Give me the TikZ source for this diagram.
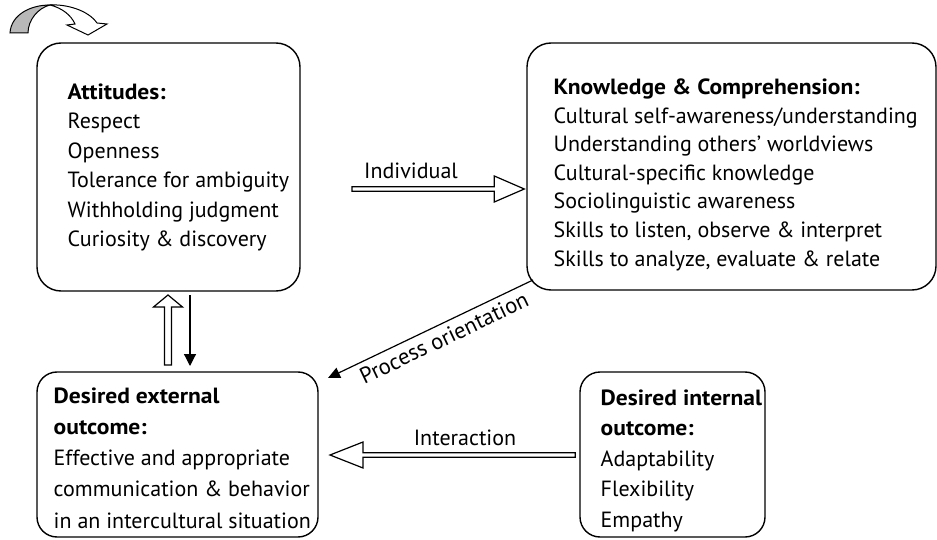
\documentclass[tikz,border=0pt]{standalone}
\usepackage{fontspec}
\setmainfont{PT Sans}[BoldFeatures={FakeStretch=1.07}]
\usetikzlibrary{calc,arrows.meta}
\begin{document}
\begin{tikzpicture}[x=1pt,y=-1pt,
  line width=1.4pt,
  box/.style={draw, rounded corners=#1, line width=1.4pt},
  txt/.style={anchor=north west, inner sep=0pt, align=left},
  lbl/.style={inner sep=0pt, font=\fontsize{22}{26}\selectfont},
  hollow/.style={draw, fill=white, line width=1.2pt, line join=miter}]
\useasboundingbox (0,0) rectangle (937,540);
% boxes
\draw[box=24pt] (37,43) rectangle (300,291);
\node[inner sep=0pt, minimum width=263pt, minimum height=248pt] (att) at (168.5,167) {};
\draw[box=24pt] (527,43) rectangle (936,290);
\node[inner sep=0pt, minimum width=409pt, minimum height=247pt] (know) at (731.5,166.5) {};
\draw[box=20pt] (37,372) rectangle (318,537);
\node[inner sep=0pt, minimum width=281pt, minimum height=165pt] (ext) at (177.5,454.5) {};
\draw[box=20pt] (580,372) rectangle (765,537);
\node[inner sep=0pt, minimum width=185pt, minimum height=165pt] (int) at (672.5,454.5) {};
% texts
\node[txt, font=\fontsize{22}{29.5}\selectfont] (attT) at (67,83) {\textbf{Attitudes:}\\Respect\\Openness\\Tolerance for ambiguity\\Withholding judgment\\Curiosity \& discovery};
\node[txt, font=\fontsize{22}{28.6}\selectfont] (knowT) at (553,78) {\textbf{Knowledge \& Comprehension:}\\Cultural self-awareness/understanding\\Understanding others' worldviews\\Cultural-specific knowledge\\Sociolinguistic awareness\\Skills to listen, observe \& interpret\\Skills to analyze, evaluate \& relate};
\node[txt, font=\fontsize{22}{31.2}\selectfont] (extT) at (53,387) {\textbf{Desired external}\\\textbf{outcome:}\\Effective and appropriate\\communication \& behavior\\in an intercultural situation};
\node[txt, font=\fontsize{22}{30.5}\selectfont] (intT) at (600,389) {\textbf{Desired internal}\\\textbf{outcome:}\\Adaptability\\Flexibility\\Empathy};
% Individual arrow
\coordinate (i1) at (352,189);
\coordinate (i2) at (know.west |- i1);
\draw[hollow] ($(i1)+(0,-2.2)$) -- ($(i2)+(-32,-2.2)$) -- ($(i2)+(-32,-13)$) -- ($(i2)+(-2,0)$) -- ($(i2)+(-32,13)$) -- ($(i2)+(-32,2.2)$) -- ($(i1)+(0,2.2)$) -- cycle;
\node[lbl] (indl) at (411,171) {Individual};
% Interaction arrow
\coordinate (n1) at ($(int.west)+(-4,0.5)$);
\coordinate (n2) at (330,455);
\draw[hollow] ($(n1)+(0,-2.2)$) -- ($(n2)+(33,-2.2)$) -- ($(n2)+(33,-13)$) -- (n2) -- ($(n2)+(33,13)$) -- ($(n2)+(33,2.2)$) -- ($(n1)+(0,2.2)$) -- cycle;
\node[lbl] (intl) at (465,438) {Interaction};
% Process orientation
\coordinate (p1) at (533,280);
\coordinate (p2) at (328,378);
\draw[line width=1.2pt, -{Triangle[length=12pt,width=11pt]}] (p1) -- (p2);
\node[lbl, rotate=25.5, font=\fontsize{22.5}{26}\selectfont] (procl) at (444,338) {Process orientation};
% vertical arrows
\coordinate (u1) at (168,365);
\coordinate (u2) at (168,295);
\draw[hollow] ($(u1)+(-3.5,0)$) -- ($(u2)+(-3.5,12)$) -- ($(u2)+(-14.5,12)$) -- (u2) -- ($(u2)+(14.5,12)$) -- ($(u2)+(3.5,12)$) -- ($(u1)+(3.5,0)$) -- cycle;
\coordinate (d1) at (190,295);
\coordinate (d2) at (190,366);
\draw[line width=1.2pt, -{Triangle[length=12pt,width=12pt]}] (d1) -- (d2);
% curved arrow top-left
\draw[line width=1pt, fill=black!28] (10,33) .. controls (11,15) and (30,5) .. (50,5) .. controls (38,8) and (28,20) .. (28,33) -- cycle;
\draw[line width=1pt, fill=white, line join=miter] (50,5) .. controls (62,8) and (71,15) .. (75,24) -- (67,25) -- (88,35) -- (107,24) -- (97,23) .. controls (88,10) and (66,4) .. (50,5) -- cycle;
\end{tikzpicture}
\end{document}
